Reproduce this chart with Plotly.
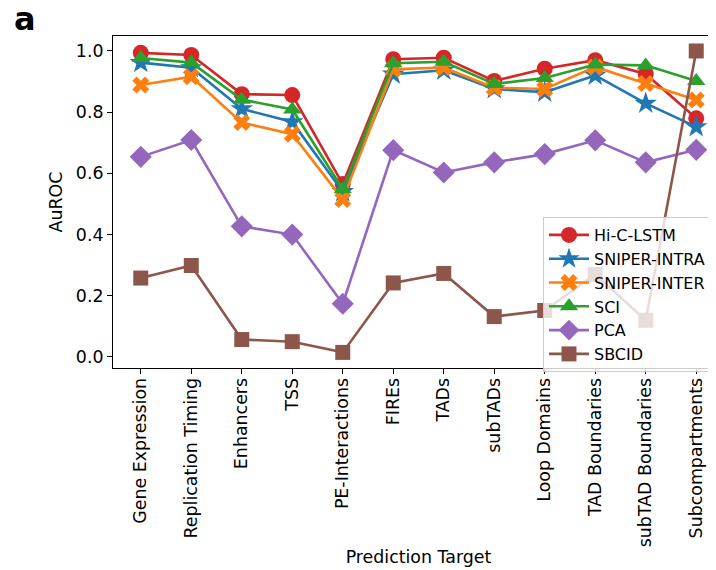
import plotly.graph_objects as go

categories = ["Gene Expression", "Replication Timing", "Enhancers", "TSS", "PE-Interactions",
              "FIREs", "TADs", "subTADs", "Loop Domains", "TAD Boundaries",
              "subTAD Boundaries", "Subcompartments"]

hic_lstm     = [0.994, 0.987, 0.859, 0.856, 0.565, 0.973, 0.978, 0.902, 0.942, 0.970, 0.925, 0.780]
sniper_intra = [0.962, 0.945, 0.811, 0.768, 0.540, 0.924, 0.937, 0.876, 0.865, 0.920, 0.829, 0.752]
sniper_inter = [0.889, 0.916, 0.766, 0.728, 0.515, 0.940, 0.946, 0.880, 0.876, 0.948, 0.894, 0.840]
sci          = [0.977, 0.962, 0.841, 0.809, 0.548, 0.960, 0.965, 0.892, 0.912, 0.956, 0.953, 0.902]
pca          = [0.654, 0.709, 0.427, 0.400, 0.174, 0.676, 0.603, 0.636, 0.663, 0.708, 0.636, 0.677]
sbcid        = [0.258, 0.299, 0.057, 0.050, 0.015, 0.242, 0.273, 0.132, 0.152, 0.270, 0.120, 1.000]

y_ticks = [0.0, 0.2, 0.4, 0.6, 0.8, 1.0]

series = [
    ("Hi-C-LSTM", hic_lstm, "#d62728", "circle", 16),
    ("SNIPER-INTRA", sniper_intra, "#1f77b4", "star", 17),
    ("SNIPER-INTER", sniper_inter, "#ff7f0e", "x", 15),
    ("SCI", sci, "#2ca02c", "triangle-up", 16),
    ("PCA", pca, "#9467bd", "diamond", 17),
    ("SBCID", sbcid, "#8c564b", "square", 15),
]

fig = go.Figure()
for name, vals, color, sym, sz in series:
    fig.add_trace(go.Scatter(
        x=list(range(len(categories))), y=vals, name=name, mode="lines+markers",
        line=dict(color=color, width=2.6),
        marker=dict(symbol=sym, size=sz, color=color, line=dict(width=0)),
    ))

# page has an 8px body margin; figure coordinates are offset accordingly
L, T, PW, PH = 105, 28, 611, 332
font_family = "DejaVu Sans"
FS = 17.4
fig.update_layout(
    width=716, height=570,
    margin=dict(l=L, r=716 - L - PW, t=T, b=570 - T - PH, autoexpand=False),
    paper_bgcolor="white", plot_bgcolor="white",
    font=dict(family=font_family, size=FS, color="black"),
    showlegend=True,
    legend=dict(
        x=(543 - 8 - L) / PW, y=1 - (217 - 8 - T) / PH, xanchor="left", yanchor="top",
        bgcolor="rgba(255,255,255,0.8)", bordercolor="#cccccc", borderwidth=1,
        font=dict(family=font_family, size=16, color="black"),
        tracegroupgap=0, itemwidth=40,
    ),
    xaxis=dict(
        range=[-0.55, 11.55], automargin=False,
        tickmode="array", tickvals=list(range(len(categories))), ticktext=categories,
        tickangle=-90, ticks="outside", ticklen=5, tickcolor="black", tickwidth=1,
        ticklabelstandoff=-3,
        showline=True, linecolor="black", linewidth=1, mirror=True,
        showgrid=False, zeroline=False,
        tickfont=dict(family=font_family, size=FS),
        title=dict(text="Prediction Target", font=dict(family=font_family, size=FS), standoff=4),
    ),
    yaxis=dict(
        range=[-0.036, 1.049], automargin=False,
        tickmode="array", tickvals=y_ticks, ticktext=[f"{v:.1f}" for v in y_ticks],
        ticks="outside", ticklen=5, tickcolor="black", tickwidth=1,
        showline=True, linecolor="black", linewidth=1, mirror=True,
        showgrid=False, zeroline=False,
        tickfont=dict(family=font_family, size=FS),
        title=dict(text="AuROC", font=dict(family=font_family, size=FS), standoff=8),
    ),
    annotations=[dict(
        text="<b>a</b>", xref="paper", yref="paper",
        x=(17 - L) / PW, y=1 + (T - 11) / PH, xanchor="center", yanchor="middle",
        showarrow=False, font=dict(family=font_family, size=32, color="black"),
    )],
)

fig.write_html("out.html")
